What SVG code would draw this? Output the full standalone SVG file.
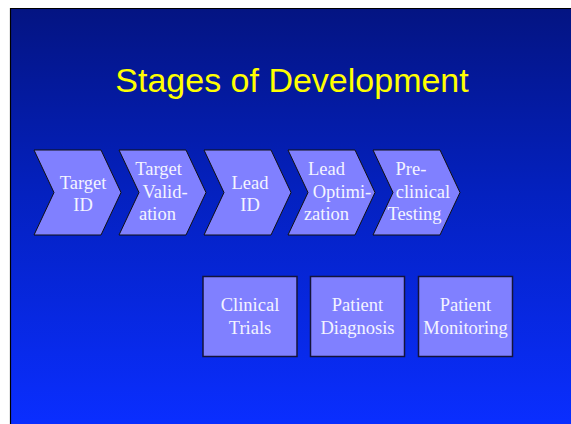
<svg xmlns="http://www.w3.org/2000/svg" width="571" height="424" viewBox="0 0 571 424">
  <defs>
    <linearGradient id="bg" x1="0" y1="0" x2="0" y2="1">
      <stop offset="0" stop-color="#041482"/>
      <stop offset="0.45" stop-color="#0421c0"/>
      <stop offset="1" stop-color="#0a2eff"/>
    </linearGradient>
    <polygon id="chev" points="0,0 67,0 87,42.5 67,85 0,85 20,42.5"/>
    <style>
      .stage { fill: #8080ff; stroke: #111; stroke-width: 1; }
      .box { fill: #8080ff; stroke: #14143a; stroke-width: 1.5; }
      .lbl { font-family: "Liberation Serif", "Times New Roman", serif; font-size: 18.5px; fill: #f4f4ff; text-anchor: middle; }
      .title { font-family: "Liberation Sans", Arial, sans-serif; font-size: 34px; fill: #ffff00; text-anchor: middle; }
    </style>
  </defs>

  <rect width="571" height="424" fill="#ffffff"/>
  <!-- slide background -->
  <rect x="10" y="8" width="561" height="416" fill="url(#bg)"/>
  <path d="M10.5,424 V8.5 H571" fill="none" stroke="#000" stroke-width="1.2"/>

  <text class="title" x="292" y="92">Stages of Development</text>

  <!-- process chevrons -->
  <g id="target-id">
    <use href="#chev" class="stage" x="34" y="150"/>
    <text class="lbl" x="83" y="189">Target</text>
    <text class="lbl" x="83" y="211">ID</text>
  </g>
  <g id="target-validation">
    <use href="#chev" class="stage" x="119" y="150"/>
    <text class="lbl" x="158.5" y="175">Target</text>
    <text class="lbl" x="165" y="197.5">Valid-</text>
    <text class="lbl" x="157.5" y="220">ation</text>
  </g>
  <g id="lead-id">
    <use href="#chev" class="stage" x="204" y="150"/>
    <text class="lbl" x="250" y="189">Lead</text>
    <text class="lbl" x="250" y="211">ID</text>
  </g>
  <g id="lead-optimization">
    <use href="#chev" class="stage" x="288" y="150"/>
    <text class="lbl" x="326.5" y="175">Lead</text>
    <text class="lbl" x="342" y="197.5">Optimi-</text>
    <text class="lbl" x="326.5" y="220">zation</text>
  </g>
  <g id="preclinical-testing">
    <use href="#chev" class="stage" x="373" y="150"/>
    <text class="lbl" x="411" y="175">Pre-</text>
    <text class="lbl" x="423" y="197.5">clinical</text>
    <text class="lbl" x="414.5" y="220">Testing</text>
  </g>

  <!-- downstream boxes -->
  <g id="clinical-trials">
    <rect class="box" x="203" y="276.5" width="94" height="80"/>
    <text class="lbl" x="250" y="311">Clinical</text>
    <text class="lbl" x="250" y="333.5">Trials</text>
  </g>
  <g id="patient-diagnosis">
    <rect class="box" x="310.5" y="276.5" width="94" height="80"/>
    <text class="lbl" x="357.5" y="311">Patient</text>
    <text class="lbl" x="357.5" y="333.5">Diagnosis</text>
  </g>
  <g id="patient-monitoring">
    <rect class="box" x="418.5" y="276.5" width="94" height="80"/>
    <text class="lbl" x="465.5" y="311">Patient</text>
    <text class="lbl" x="465.5" y="333.5">Monitoring</text>
  </g>

  <g id="connectors"/>
</svg>
